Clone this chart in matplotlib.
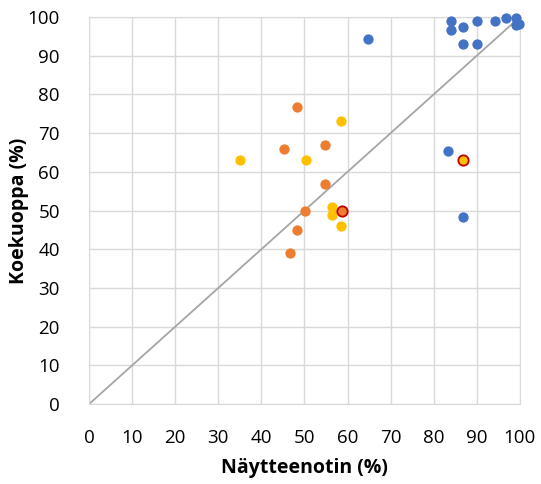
import numpy as np
import matplotlib.pyplot as plt

# sarjat (x = Näytteenotin, y = Koekuoppa)
blue_x = [84.1, 84.1, 86.7, 90.1, 94.2, 96.7, 99.2, 99.8, 99.2, 86.7, 90.1, 64.7, 83.3, 86.7]
blue_y = [99.0, 96.5, 97.5, 99.0, 99.0, 99.6, 99.7, 98.2, 97.9, 93.1, 93.1, 94.3, 65.4, 48.3]

orange_x = [48.3, 45.3, 54.7, 54.7, 50.2, 48.3, 46.6]
orange_y = [76.7, 65.8, 67.0, 56.8, 49.8, 45.0, 39.1]

yellow_x = [58.5, 35.0, 50.3, 56.5, 56.5, 58.5]
yellow_y = [73.2, 63.0, 63.0, 51.0, 48.8, 46.0]

# korostetut pisteet
hl_orange = (58.7, 49.9)
hl_yellow = (86.9, 63.1)

ticks = list(range(0, 101, 10))

plt.rcParams['font.family'] = ['Open Sans', 'DejaVu Sans']

fig = plt.figure(figsize=(5.41, 4.84), dpi=100)
ax = fig.add_axes([0.1645, 0.165, 0.7965, 0.80])

ax.plot([0, 100], [0, 100], color='#A5A5A5', lw=1.3, zorder=2)

ms = 55
ax.scatter(blue_x, blue_y, s=ms, color='#4472C4', zorder=3, linewidths=0, clip_on=False)
ax.scatter(orange_x, orange_y, s=ms, color='#ED7D31', zorder=3, linewidths=0)
ax.scatter(yellow_x, yellow_y, s=ms, color='#FFC000', zorder=3, linewidths=0)
ax.scatter([hl_orange[0]], [hl_orange[1]], s=ms, color='#ED7D31', edgecolors='#C00000', linewidths=1.3, zorder=4)
ax.scatter([hl_yellow[0]], [hl_yellow[1]], s=ms, color='#FFC000', edgecolors='#C00000', linewidths=1.3, zorder=4)

ax.set_xlim(0, 100)
ax.set_ylim(0, 100)
ax.set_xticks(ticks)
ax.set_yticks(ticks)
ax.grid(True, color='#D9D9D9', lw=1)
ax.set_axisbelow(True)
for sp in ax.spines.values():
    sp.set_color('#D9D9D9')
ax.tick_params(length=0, labelsize=13.5, colors='#000000')
ax.tick_params(axis='x', pad=18)
ax.tick_params(axis='y', pad=21)

ax.set_xlabel('Näytteenotin (%)', fontsize=14, fontweight='bold')
ax.set_ylabel('Koekuoppa (%)', fontsize=14, fontweight='bold')
ax.xaxis.set_label_coords(0.5, -0.14)
ax.yaxis.set_label_coords(-0.14, 0.5)

fig.savefig('out.png', dpi=100)
